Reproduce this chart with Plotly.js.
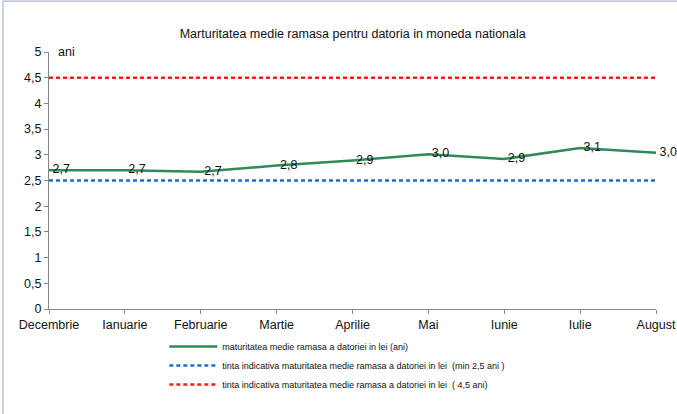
<!DOCTYPE html>
<html>
<head>
<meta charset="utf-8">
<script src="https://cdn.plot.ly/plotly-3.0.1.min.js"></script>
<style>
  body { margin: 0; background: #fff; }
  #myPlot { width: 677px; height: 414px; }
</style>
</head>
<body>
<div id="myPlot"></div>
<script>
var luni = ["Decembrie", "Ianuarie", "Februarie", "Martie", "Aprilie", "Mai", "Iunie", "Iulie", "August"];
var maturitate = [2.70, 2.70, 2.67, 2.79, 2.89, 3.01, 2.92, 3.13, 3.04];
var tintaMin = [2.5, 2.5, 2.5, 2.5, 2.5, 2.5, 2.5, 2.5, 2.5];
var tintaMax = [4.5, 4.5, 4.5, 4.5, 4.5, 4.5, 4.5, 4.5, 4.5];

var fontName = "Liberation Sans, Arial, sans-serif";

// Define Data
var data = [
  {
    x: luni,
    y: maturitate,
    mode: "lines+text",
    name: "maturitatea medie ramasa a datoriei in lei (ani)",
    line: {color: "#2e8b57", width: 2.5},
    texttemplate: " %{y:.1f}",
    textposition: "middle right",
    textfont: {family: fontName, size: 12.5, color: "#111"},
    cliponaxis: false
  },
  {
    x: luni,
    y: tintaMin,
    mode: "lines",
    name: "tinta indicativa maturitatea medie ramasa a datoriei in lei  (min 2,5 ani )",
    line: {color: "#1a6fd6", width: 2.5, dash: "4px,3px"}
  },
  {
    x: luni,
    y: tintaMax,
    mode: "lines",
    name: "tinta indicativa maturitatea medie ramasa a datoriei in lei  ( 4,5 ani)",
    line: {color: "#ff1a1a", width: 2.5, dash: "4px,3px"}
  }
];

// Define Layout
var layout = {
  width: 677,
  height: 414,
  margin: {l: 49, r: 21, t: 52, b: 105},
  separators: ", ",
  font: {family: fontName, size: 12, color: "#111"},
  title: {
    text: "Marturitatea medie ramasa pentru datoria in moneda nationala",
    font: {family: fontName, size: 12.5, color: "#111"},
    x: 0.521, xanchor: "center",
    y: 0.918, yanchor: "middle"
  },
  xaxis: {
    type: "category",
    range: [0, 8],
    showgrid: false,
    zeroline: false,
    showline: true,
    linecolor: "#868686",
    linewidth: 1,
    ticks: "outside",
    ticklen: 4,
    tickcolor: "#868686",
    tickfont: {size: 12.5, color: "#111"}
  },
  yaxis: {
    range: [0, 5],
    dtick: 0.5,
    showgrid: false,
    zeroline: false,
    showline: true,
    linecolor: "#868686",
    linewidth: 1,
    ticks: "outside",
    ticklen: 4,
    tickcolor: "#868686",
    tickfont: {size: 12.5, color: "#111"}
  },
  showlegend: true,
  legend: {
    xref: "paper", yref: "container",
    x: 0.19, xanchor: "left",
    y: 0.198, yanchor: "top",
    orientation: "v",
    font: {family: fontName, size: 9, color: "#111"},
    itemwidth: 48,
    bgcolor: "rgba(0,0,0,0)"
  },
  annotations: [
    {
      text: "ani",
      xref: "paper", yref: "paper",
      x: 0.012, y: 1,
      xanchor: "left", yanchor: "middle",
      showarrow: false,
      font: {family: fontName, size: 12.5, color: "#111"}
    }
  ],
  shapes: [
    {
      type: "rect",
      xref: "paper", yref: "paper",
      x0: -0.0758, x1: 1.2, y0: -0.6, y1: 1.198,
      line: {color: "#8fa3c8", width: 1},
      fillcolor: "rgba(0,0,0,0)",
      layer: "below"
    }
  ],
  plot_bgcolor: "#fff",
  paper_bgcolor: "#fff"
};

// Display using Plotly
Plotly.newPlot("myPlot", data, layout, {displayModeBar: false, staticPlot: true});
</script>
</body>
</html>
